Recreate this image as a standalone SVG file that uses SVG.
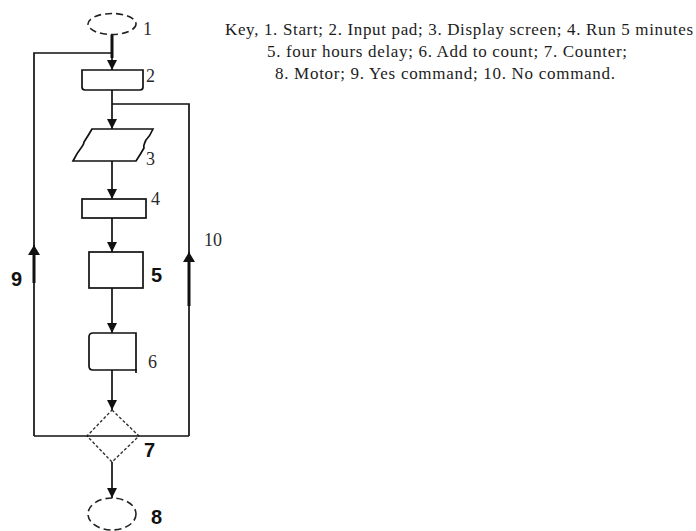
<svg xmlns="http://www.w3.org/2000/svg" width="696" height="531" viewBox="0 0 696 531">
  <defs>
    <marker id="arrow" viewBox="0 0 10 10" refX="10" refY="5" markerWidth="10" markerHeight="10" markerUnits="userSpaceOnUse" orient="auto">
      <path d="M0,0 L10,5 L0,10 Z" fill="#111"/>
    </marker>
    <marker id="arrowBig" viewBox="0 0 10 12" refX="10" refY="6" markerWidth="10" markerHeight="12" markerUnits="userSpaceOnUse" orient="auto">
      <path d="M0,0 L10,6 L0,12 Z" fill="#111"/>
    </marker>
  </defs>
  <style>
    .line { fill: none; stroke: #111; stroke-width: 1.7; }
    .thick { fill: none; stroke: #111; stroke-width: 3; }
    .shape { fill: #fff; stroke: #111; stroke-width: 1.7; }
    .dashed { fill: #fff; stroke: #222; stroke-width: 1.6; stroke-dasharray: 7 4; }
    .dotted { fill: #fff; stroke: #333; stroke-width: 1.4; stroke-dasharray: 3 2; }
    .num { font-family: "Liberation Serif", "Times New Roman", serif; font-size: 18px; fill: #2a2a2a; }
    .bold { font-family: "Liberation Sans", Arial, sans-serif; font-size: 20px; font-weight: bold; fill: #111; }
    .key { font-family: "Liberation Serif", "Times New Roman", serif; font-size: 17px; fill: #1c1c1c; }
  </style>
  <rect width="696" height="531" fill="#fff"/>

  <!-- connectors -->
  <g id="connectors">
    <!-- start to input pad -->
    <path class="thick" d="M112,34 V58"/>
    <path class="line" d="M112,56 V70" marker-end="url(#arrow)"/>
    <!-- yes loop back to top -->
    <path class="line" d="M34,436 V53 H112"/>
    <!-- input pad to display screen -->
    <path class="line" d="M112,90 V129" marker-end="url(#arrow)"/>
    <!-- no loop branch -->
    <path class="line" d="M112,104 H189 V436"/>
    <!-- display screen to run 5 minutes -->
    <path class="line" d="M112,161 V199" marker-end="url(#arrow)"/>
    <!-- run 5 minutes to delay -->
    <path class="line" d="M112,218 V252" marker-end="url(#arrow)"/>
    <!-- delay to add to count -->
    <path class="line" d="M112,288 V333" marker-end="url(#arrow)"/>
    <!-- add to count to counter -->
    <path class="line" d="M112,370 V410" marker-end="url(#arrow)"/>
    <!-- counter to motor -->
    <path class="line" d="M112,462 V498" marker-end="url(#arrow)"/>
    <!-- counter horizontal bar -->
    <path class="line" d="M34,436 H189"/>
    <!-- direction arrows on the loops -->
    <path class="thick" d="M34,283 V253"/>
    <path class="line" d="M34,256 V245" marker-end="url(#arrowBig)"/>
    <path class="thick" d="M189,306 V260"/>
    <path class="line" d="M189,263 V252" marker-end="url(#arrowBig)"/>
  </g>

  <!-- 1. Start -->
  <g id="node-start">
    <ellipse class="dashed" cx="112" cy="24" rx="24" ry="10.5"/>
    <text class="num" x="143" y="35">1</text>
  </g>

  <!-- 2. Input pad -->
  <g id="node-input">
    <path class="shape" d="M82,70 H143 V87 Q143,90 140,90 H85 Q82,90 82,87 Z"/>
    <text class="num" x="146" y="82">2</text>
  </g>

  <!-- 3. Display screen -->
  <g id="node-display">
    <path class="shape" d="M92,129 H153 Q150,136 146,140 Q143,146 144,148 Q140,155 136,161 H73 Q77,153 81,148 Q84,144 84,142 Q88,136 92,129 Z"/>
    <text class="num" x="146" y="165">3</text>
  </g>

  <!-- 4. Run 5 minutes -->
  <g id="node-run">
    <rect class="shape" x="82" y="199" width="64" height="19"/>
    <text class="num" x="151" y="205">4</text>
  </g>

  <!-- 5. Four hours delay -->
  <g id="node-delay">
    <rect class="shape" x="89" y="252" width="54" height="36"/>
    <text class="bold" x="151" y="282">5</text>
  </g>

  <!-- 6. Add to count -->
  <g id="node-add">
    <path class="shape" d="M93,333 H136 V370 H93 Q89,370 89,366 V337 Q89,333 93,333 Z"/>
    <path class="line" d="M136,369 V373"/>
    <text class="num" x="148" y="368">6</text>
  </g>

  <!-- 7. Counter -->
  <g id="node-counter">
    <path class="dotted" d="M112,410 L139,436 L112,462 L87,436 Z"/>
    <path class="line" d="M87,436 H139"/>
    <text class="bold" x="144" y="457">7</text>
  </g>

  <!-- 8. Motor -->
  <g id="node-motor">
    <ellipse class="dashed" cx="112" cy="514" rx="24" ry="16"/>
    <text class="bold" x="151" y="524">8</text>
  </g>

  <!-- loop labels -->
  <g id="label-yes">
    <text class="bold" x="11" y="286">9</text>
  </g>
  <g id="label-no">
    <text class="num" x="204" y="246">10</text>
  </g>

  <!-- legend -->
  <g id="key">
    <text class="key" x="225" y="35" textLength="468" lengthAdjust="spacing">Key, 1. Start; 2. Input pad; 3. Display screen; 4. Run 5 minutes</text>
    <text class="key" x="267" y="57" textLength="360" lengthAdjust="spacing">5. four hours delay; 6. Add to count; 7. Counter;</text>
    <text class="key" x="275" y="79" textLength="340" lengthAdjust="spacing">8. Motor; 9. Yes command; 10. No command.</text>
  </g>
</svg>
